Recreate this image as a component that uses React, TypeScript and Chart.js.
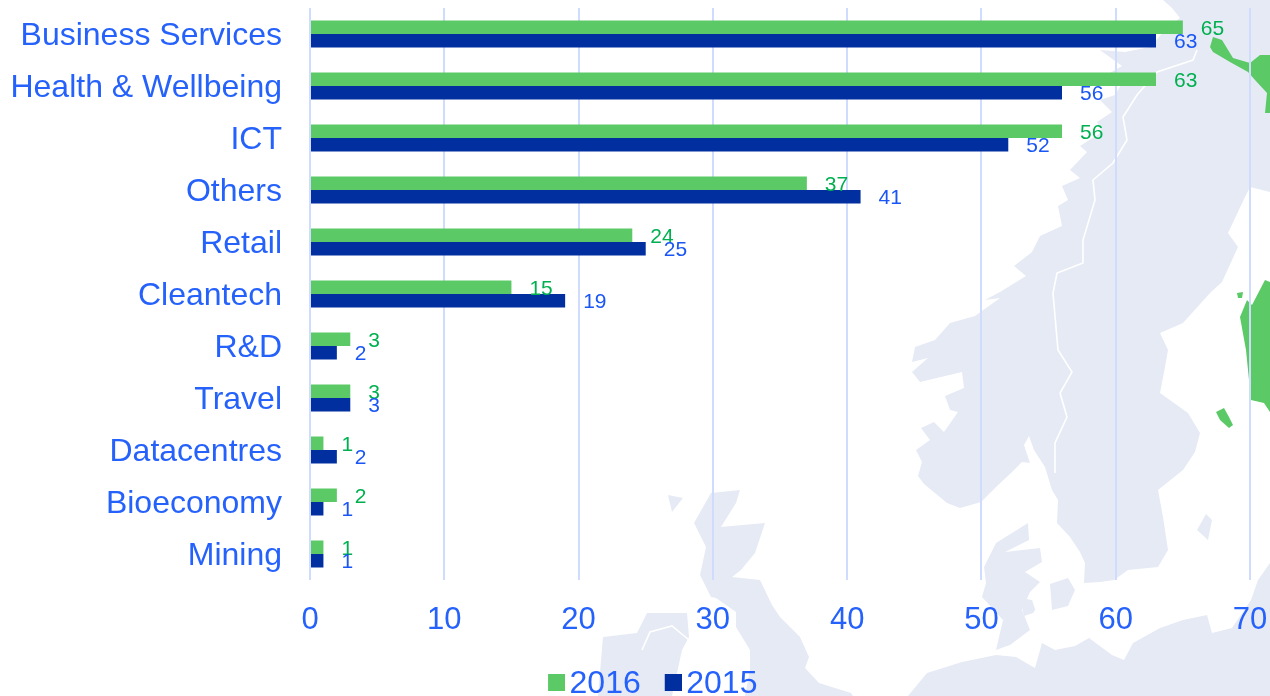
import React, { useEffect, useRef } from "react";
import { Chart, registerables } from "chart.js";

Chart.register(...registerables);

const categories = ["Business Services", "Health & Wellbeing", "ICT", "Others", "Retail", "Cleantech", "R&D", "Travel", "Datacentres", "Bioeconomy", "Mining"];
const values2016 = [65, 63, 56, 37, 24, 15, 3, 3, 1, 2, 1];
const values2015 = [63, 56, 52, 41, 25, 19, 2, 3, 2, 1, 1];

const BLUE_TEXT = "#2561FB";
const GREEN = "#5BC966";
const NAVY = "#022F9F";
const GREEN_TEXT = "#00B050";
const LABEL_BLUE = "#1A56F5";
const GRID = "#CFDCFD";
const LAND = "#E6EAF5";
const FONT = '"Liberation Sans", Arial, sans-serif';

// Decorative backdrop (a faint map of northern Europe); not data.
const landPaths = [
  // Scandinavia
  "M1163 0 L1172 8 L1180 18 L1165 30 L1150 47 L1125 52 L1100 50 L1122 66 L1108 74 L1125 78 L1115 95 L1100 100 L1112 112 L1097 122 L1102 132 L1080 146 L1087 152 L1070 170 L1080 178 L1062 186 L1068 200 L1058 206 L1062 226 L1040 236 L1032 252 L1014 266 L1026 276 L1000 292 L985 300 L1000 298 L975 316 L950 323 L935 340 L915 347 L912 362 L928 358 L912 372 L920 382 L962 372 L964 388 L945 396 L950 410 L958 412 L944 432 L934 422 L921 428 L930 440 L916 450 L922 462 L918 476 L924 484 L947 503 L960 508 L981 502 L996 487 L1011 473 L1022 462 L1030 463 L1024 445 L1029 436 L1034 450 L1045 467 L1052 490 L1058 500 L1057 523 L1070 537 L1080 552 L1085 563 L1084 583 L1100 582 L1114 580 L1128 570 L1158 567 L1168 550 L1163 517 L1158 490 L1183 470 L1195 452 L1200 433 L1188 413 L1160 393 L1165 367 L1168 350 L1160 333 L1183 323 L1210 293 L1222 282 L1238 247 L1228 233 L1245 197 L1250 187 L1270 192 L1270 0 Z",
  // Jutland and Danish islands
  "M984 567 L991 553 L996 543 L1028 523 L1029 540 L1005 552 L1040 548 L1042 562 L1025 572 L1040 582 L1030 592 L1022 610 L1030 630 L1010 645 L996 650 L1003 620 L982 597 L986 583 Z",
  "M1050 584 L1068 578 L1075 590 L1068 606 L1052 610 Z",
  "M1020 598 L1032 600 L1036 612 L1024 616 Z",
  "M1197 530 L1206 514 L1212 520 L1208 540 Z",
  // Central Europe shoreline
  "M908 696 L927 673 L962 662 L996 655 L1016 657 L1035 668 L1042 643 L1055 650 L1075 646 L1089 638 L1112 655 L1124 660 L1133 643 L1160 628 L1183 620 L1207 615 L1212 633 L1232 628 L1251 600 L1258 580 L1270 563 L1270 696 Z",
  // Great Britain
  "M711 493 L740 490 L736 503 L721 527 L765 523 L755 553 L741 570 L732 577 L760 580 L772 605 L780 617 L800 637 L809 657 L805 668 L819 683 L851 693 L853 696 L745 696 L750 670 L750 650 L736 627 L736 612 L716 598 L711 597 L700 575 L706 547 L694 523 Z",
  // Ireland
  "M603 637 L637 633 L647 613 L687 613 L689 637 L682 650 L672 696 L598 696 Z",
  // Hebrides
  "M668 495 L683 498 L672 512 Z",
];
const borderPaths = [
  "M1197 50 L1193 60 L1157 72 L1137 95 L1123 117 L1127 140 L1113 163 L1093 180 L1095 200 L1083 240 L1083 263 L1057 273 L1053 293 L1058 350 L1072 372 L1060 393 L1067 417 L1055 443 L1055 473",
  "M642 650 L650 632 L672 626 L689 640",
  "M1036 610 L1030 620",
];
const finlandPaths = [
  "M1210 47 L1213 37 L1222 40 L1233 58 L1250 63 L1260 55 L1270 55 L1270 113 L1265 113 L1267 93 L1255 80 L1248 72 L1230 62 L1213 52 Z",
  "M1240 317 L1247 300 L1252 305 L1265 280 L1270 282 L1270 412 L1264 403 L1251 400 L1246 350 Z",
  "M1216 412 L1224 408 L1229 417 L1233 425 L1229 428 L1220 420 Z",
  "M1237 293 L1243 292 L1242 298 L1238 298 Z",
];

const mapBackdrop = {
  id: "mapBackdrop",
  beforeDraw(chart: any) {
    const { ctx, width, height } = chart;
    ctx.save();
    ctx.fillStyle = "#FFFFFF";
    ctx.fillRect(0, 0, width, height);
    ctx.filter = "blur(0.7px)";
    ctx.fillStyle = LAND;
    landPaths.forEach((d) => ctx.fill(new Path2D(d)));
    ctx.strokeStyle = "#FFFFFF";
    ctx.lineWidth = 1.6;
    borderPaths.forEach((d) => ctx.stroke(new Path2D(d)));
    ctx.fillStyle = GREEN;
    finlandPaths.forEach((d) => ctx.fill(new Path2D(d)));
    ctx.restore();
  },
};

const valueLabels = {
  id: "valueLabels",
  afterDatasetsDraw(chart: any) {
    const { ctx } = chart;
    ctx.save();
    ctx.font = `21px ${FONT}`;
    ctx.textAlign = "left";
    ctx.textBaseline = "middle";
    chart.data.datasets.forEach((ds: any, i: number) => {
      ctx.fillStyle = i === 0 ? GREEN_TEXT : LABEL_BLUE;
      chart.getDatasetMeta(i).data.forEach((bar: any, j: number) => {
        ctx.fillText(String(ds.data[j]), bar.x + 18, bar.y + 1.5);
      });
    });
    ctx.restore();
  },
};

// Moves the centred legend to the place it has in the reference.
const legendShift = {
  id: "legendShift",
  afterLayout(chart: any) {
    chart.legend.left += 30;
    chart.legend.right += 30;
  },
};

function swatch(color: string) {
  const c = document.createElement("canvas");
  c.width = 24;
  c.height = 21;
  const g = c.getContext("2d")!;
  g.fillStyle = color;
  g.fillRect(7, 0, 17, 17);
  return c;
}

export default function App() {
  const ref = useRef<HTMLCanvasElement>(null);
  useEffect(() => {
    document.body.style.margin = "0";
    const swatches: Record<string, HTMLCanvasElement> = { "2016": swatch(GREEN), "2015": swatch(NAVY) };
    const chart = new Chart(ref.current!, {
      type: "bar",
      data: {
        labels: categories,
        datasets: [
          { label: "2016", data: values2016, backgroundColor: GREEN, barPercentage: 1, categoryPercentage: 27 / 52 },
          { label: "2015", data: values2015, backgroundColor: NAVY, barPercentage: 1, categoryPercentage: 27 / 52 },
        ],
      },
      options: {
        indexAxis: "y",
        responsive: false,
        animation: false,
        layout: { padding: { left: 0, right: 20, top: 8, bottom: 0 } },
        scales: {
          x: {
            min: 0,
            max: 70,
            grid: { color: GRID, lineWidth: 2, drawTicks: false },
            border: { display: false },
            ticks: { stepSize: 10, color: BLUE_TEXT, font: { size: 31, family: FONT }, padding: 22, maxRotation: 0 },
            afterFit(scale: any) {
              scale.height = 60;
              scale.paddingLeft = 0;
              scale.paddingRight = 0;
            },
          },
          y: {
            grid: { display: false, drawTicks: false },
            border: { display: false },
            ticks: { color: BLUE_TEXT, font: { size: 32, family: FONT }, padding: 28, autoSkip: false, labelOffset: 2 },
            afterFit(scale: any) {
              scale.width = 310;
              scale.paddingTop = 0;
              scale.paddingBottom = 0;
            },
          },
        },
        plugins: {
          tooltip: { enabled: false },
          legend: {
            position: "bottom",
            maxHeight: 56,
            labels: {
              usePointStyle: true,
              boxWidth: 1,
              boxHeight: 17,
              padding: 28.5,
              color: BLUE_TEXT,
              font: { size: 32, family: FONT },
              generateLabels(c: any) {
                return c.data.datasets.map((ds: any, i: number) => ({
                  text: ds.label,
                  fillStyle: ds.backgroundColor,
                  strokeStyle: ds.backgroundColor,
                  lineWidth: 0,
                  pointStyle: swatches[ds.label],
                  fontColor: BLUE_TEXT,
                  datasetIndex: i,
                }));
              },
            },
          },
        },
      } as any,
      plugins: [mapBackdrop, valueLabels, legendShift],
    });
    return () => chart.destroy();
  }, []);
  return <canvas ref={ref} width={1270} height={696} style={{ display: "block" }} />;
}
